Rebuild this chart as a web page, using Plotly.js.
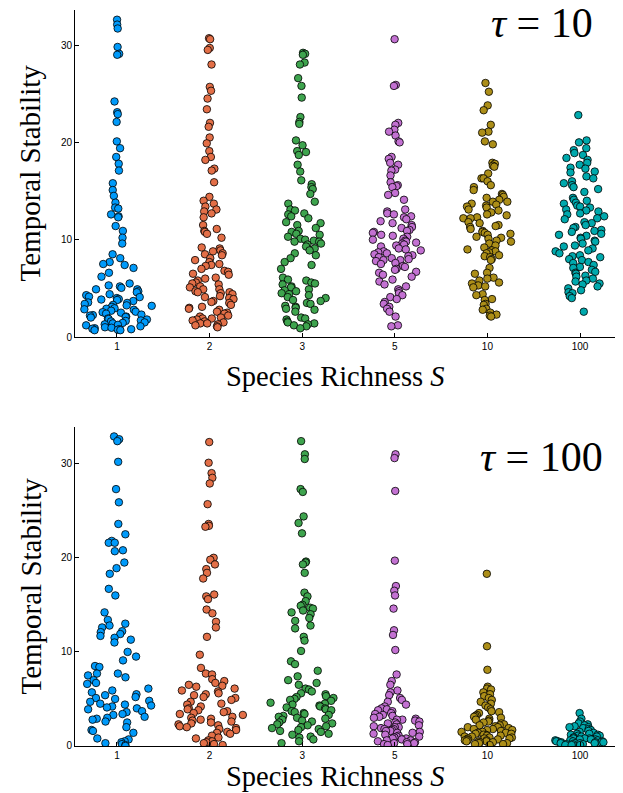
<!DOCTYPE html>
<html>
<head>
<meta charset="utf-8">
<script src="https://cdn.plot.ly/plotly-3.0.1.min.js"></script>
<style>html,body{margin:0;padding:0;background:#fff;}#chart{width:623px;height:793px;}</style>
</head>
<body>
<div id="chart"></div>
<script>
// Category tick labels (species richness S)
const categories = ['1', '2', '3', '5', '10', '100'];
const seriesColors = ['#009AFA', '#E36F47', '#3EA44E', '#C371D2', '#AC8E18', '#00A9AD'];

// Panel tau = 10 : temporal stability per species richness
const tau10_S1 = [32.6, 32.1, 31.7, 29.8, 29.1, 29.0, 24.2, 23.1, 22.9, 22.1, 20.1, 19.4, 18.5, 17.8, 17.1, 15.8, 15.1, 14.5, 13.8, 13.3, 13.2, 12.6, 12.4, 12.3, 11.4, 10.9, 10.2, 9.6, 8.5, 8.1, 7.7, 7.5, 7.4, 7.1, 6.6, 6.2, 5.5,
  5.3, 5.2, 5.05, 4.9, 4.9, 4.7, 4.6, 4.4, 4.3, 4.15, 4.1, 4.0, 3.9, 3.85, 3.8, 3.7, 3.55, 3.5, 3.4, 3.3, 3.25, 3.2, 3.1, 2.95, 2.9, 2.85, 2.8, 2.7, 2.6, 2.55, 2.5, 2.4, 2.3, 2.25,
  2.2, 2.1, 2.05, 2.0, 1.9, 1.85, 1.8, 1.7, 1.65, 1.6, 1.5, 1.45, 1.4, 1.3, 1.25, 1.2, 1.1, 1.0, 0.95, 0.9, 0.85, 0.8, 0.8, 0.75, 0.7, 0.7];
const tau10_S2 = [30.7, 30.6, 29.7, 29.5, 28.0, 25.7, 25.3, 24.5, 23.4, 22.0, 21.6, 20.5, 19.9, 19.1, 18.5, 18.2, 17.3, 17.1, 15.9, 14.4, 14.0, 13.7, 13.4, 13.1, 12.9, 12.7, 12.3, 11.5, 11.1, 10.9, 10.8, 10.6, 10.2,
  9.2, 9.1, 8.9, 8.8, 8.6, 8.5, 8.4, 8.1, 7.9, 7.7, 7.5, 7.4, 7.3, 7.0, 6.8, 6.7, 6.5, 6.4, 6.1, 6.0, 5.8, 5.6, 5.5, 5.4, 5.2, 5.1, 4.9, 4.9, 4.7, 4.6, 4.6, 4.5, 4.4, 4.2, 4.1, 4.0,
  3.9, 3.7, 3.6, 3.5, 3.3, 3.1, 3.0, 2.9, 2.8, 2.6, 2.5, 2.4, 2.2, 2.1, 2.0, 1.9, 1.9, 1.8, 1.7, 1.6, 1.5, 1.4, 1.4, 1.3, 1.2, 1.1, 1.0];
const tau10_S3 = [29.2, 29.1, 29.0, 28.2, 28.0, 26.6, 25.8, 24.6, 22.6, 22.1, 21.9, 20.2, 19.7, 19.1, 19.0, 18.7, 17.7, 17.0, 16.1, 15.7, 15.4, 15.2, 14.7, 13.9, 13.7, 13.1, 13.0, 12.7, 12.6, 12.4, 12.2, 11.8, 11.7, 11.5, 11.2,
  10.9, 10.8, 10.6, 10.5, 10.3, 10.1, 10.0, 9.9, 9.8, 9.8, 9.6, 9.5, 9.3, 9.1, 8.9, 8.6, 8.4, 8.1, 7.7, 7.4, 7.0,
  6.1, 5.9, 5.8, 5.6, 5.5, 5.4, 5.2, 5.1, 4.9, 4.8, 4.7, 4.5, 4.4, 4.3, 4.1, 4.0, 3.8, 3.7, 3.5, 3.4, 3.2, 3.1, 3.0, 2.9, 2.8, 2.6,
  2.0, 1.9, 1.8, 1.6, 1.5, 1.4, 1.3, 1.2, 1.1, 0.9];
const tau10_S5 = [30.6, 25.9, 25.8, 22.0, 21.8, 21.3, 21.1, 20.7, 20.1, 20.0, 18.5, 18.3, 17.9, 17.7, 17.2, 17.1, 16.6, 15.9, 15.6, 15.5, 15.4, 14.8, 14.6, 14.1,
  13.1, 12.9, 12.7, 12.6, 12.4, 12.3, 12.1, 11.9, 11.7, 11.5, 11.3, 11.2, 11.0, 10.9, 10.8, 10.7, 10.5, 10.4, 10.3, 10.1, 10.0,
  9.9, 9.8, 9.7, 9.6, 9.5, 9.4, 9.3, 9.1, 9.0, 8.9, 8.8, 8.7, 8.6, 8.5, 8.4, 8.3, 8.2, 8.1, 8.0, 7.9, 7.9, 7.8, 7.6, 7.5, 7.3, 7.2, 7.0, 6.9, 6.7, 6.6,
  6.4, 6.2, 5.9, 5.7, 5.4, 5.2, 4.9, 4.7, 4.5, 4.3, 4.1, 3.9, 3.6, 3.4, 3.1, 2.9, 2.6, 2.1, 1.2, 1.1];
const tau10_S10 = [26.1, 25.2, 23.8, 23.3, 21.8, 21.1, 21.0, 20.1, 19.8, 17.9, 17.8, 17.6, 17.5, 16.8, 16.3, 16.3, 16.0, 15.6, 15.4, 15.1,
  14.7, 14.6, 14.4, 14.3, 14.1, 13.9, 13.9, 13.7, 13.6, 13.5, 13.4, 13.3, 13.1, 13.0, 12.8, 12.6, 12.5, 12.3, 12.2, 12.2,
  11.8, 11.7, 11.5, 11.4, 11.3, 11.1, 10.9, 10.8, 10.7, 10.6, 10.5, 10.3, 10.2, 10.1, 9.9, 9.8, 9.6, 9.4, 9.2, 9.0,
  8.9, 8.8, 8.7, 8.6, 8.4, 8.3, 8.2, 8.0, 7.9, 7.1, 6.6, 6.5, 6.1, 6.0, 5.8, 5.6, 5.5, 5.3, 5.2, 5.1,
  4.4, 4.3, 3.9, 3.8, 3.4, 3.3, 2.9, 2.8, 2.5, 2.3, 2.2, 2.1];
const tau10_S100 = [22.8, 20.2, 20.0, 19.4, 19.2, 18.9, 18.7, 18.4, 18.2, 17.9, 17.7, 17.4, 17.3, 17.0, 16.9, 16.5, 16.3, 16.0, 15.8, 15.6, 15.4, 15.2, 14.9,
  14.3, 14.1, 14.0, 13.8, 13.7, 13.5, 13.4, 13.3, 13.1, 13.0, 12.9, 12.7, 12.6, 12.4, 12.2, 12.1, 11.8, 11.7, 11.5, 11.3, 11.2, 11.0,
  10.9, 10.8, 10.6, 10.5, 10.4, 10.2, 10.1, 9.9, 9.8, 9.6, 9.4, 9.3, 9.1, 8.9, 8.8, 8.6, 8.4, 8.3, 8.2, 8.0,
  7.9, 7.7, 7.6, 7.4, 7.2, 7.1, 6.9, 6.7, 6.6, 6.5, 6.3, 6.2, 6.0, 5.8, 5.7, 5.5, 5.4, 5.2, 5.0, 4.8, 4.6, 4.5, 4.2, 4.0, 2.6];

// Panel tau = 100
const tau100_S1 = [32.9, 32.6, 32.4, 30.2, 27.3, 25.9, 23.6, 22.5, 21.8, 21.6, 21.6, 20.8, 20.7, 19.5, 18.9, 18.3, 16.7, 16.0, 14.2, 13.4, 13.0, 12.8, 12.6, 12.2, 12.1, 11.9, 11.7, 11.5, 11.3, 11.0,
  10.0, 9.5, 9.1, 8.5, 8.4, 7.7, 7.7, 7.5, 7.3, 7.0, 6.7, 6.6, 6.1, 5.9, 5.7, 5.5, 5.4, 5.2, 5.1, 5.0, 4.8, 4.7, 4.5, 4.4, 4.3, 4.2, 4.1, 4.0, 3.9, 3.7,
  3.6, 3.4, 3.3, 3.1, 3.0, 2.9, 2.8, 2.6, 2.5, 2.0, 1.7, 1.6, 1.4, 0.8, 0.7, 0.5, 0.4, 0.3, 0.2, 0.1, 0.0];
const tau100_S2 = [32.3, 30.1, 29.0, 28.5, 27.9, 25.7, 23.6, 23.4, 23.3, 20.0, 19.8, 19.3, 18.8, 18.4, 17.8, 16.1, 15.9, 15.6, 14.5, 14.1, 13.2, 12.6, 11.6, 9.7, 8.3, 7.7, 7.6,
  7.1, 6.9, 6.7, 6.5, 6.4, 6.3, 6.1, 5.9, 5.8, 5.6, 5.5, 5.4, 5.2, 5.1, 4.9, 4.7, 4.5, 4.4, 4.2, 4.0, 3.9, 3.8, 3.7, 3.6, 3.5, 3.4, 3.3, 3.1, 3.0,
  2.9, 2.8, 2.7, 2.6, 2.5, 2.4, 2.3, 2.2, 2.1, 2.0, 1.9, 1.8, 1.7, 1.5, 1.4, 1.3, 1.1, 0.9, 0.8, 0.6, 0.5, 0.4, 0.3, 0.2, 0.1];
const tau100_S3 = [32.4, 31.0, 30.5, 27.3, 27.0, 24.4, 23.7, 22.6, 19.6, 19.5, 19.3, 18.4, 16.3, 15.9, 15.4, 15.0, 14.9, 14.7, 14.6, 14.4, 14.2, 14.0, 13.6, 13.3, 12.8, 12.5, 11.6, 11.2, 10.1,
  9.0, 8.7, 8.0, 7.4, 7.0, 6.7, 6.5, 6.1, 6.0, 5.8, 5.6, 5.5, 5.3, 5.2, 5.1, 5.0, 4.9, 4.8, 4.6, 4.5, 4.4, 4.3, 4.2, 4.1, 4.0, 3.9, 3.8, 3.7, 3.6, 3.5,
  3.4, 3.3, 3.2, 3.1, 3.0, 2.9, 2.8, 2.7, 2.6, 2.5, 2.4, 2.3, 2.2, 2.1, 2.0, 1.9, 1.8, 1.7, 1.6, 1.5, 1.3, 1.2, 1.0, 0.9, 0.7, 0.5, 0.3];
const tau100_S5 = [31.0, 30.6, 27.1, 19.7, 17.0, 16.5, 16.0, 14.6, 12.3, 11.8, 10.2, 7.6, 6.9, 6.5, 5.9, 5.7, 5.4, 5.1, 4.9, 4.7, 4.4, 4.2, 4.0, 3.9, 3.8, 3.7, 3.5, 3.4, 3.3, 3.2, 3.1, 3.0,
  2.9, 2.8, 2.8, 2.7, 2.6, 2.5, 2.4, 2.3, 2.2, 2.1, 2.0, 2.0, 1.9, 1.8, 1.8, 1.7, 1.6, 1.6, 1.5, 1.4, 1.4, 1.3, 1.2, 1.1, 1.0, 1.0,
  0.9, 0.8, 0.8, 0.7, 0.6, 0.6, 0.5, 0.4, 0.4, 0.3, 0.3, 0.2, 0.2, 0.1];
const tau100_S10 = [18.3, 10.6, 8.1, 6.3, 6.1, 6.0, 5.7, 5.5, 5.3, 5.1, 4.9, 4.7, 4.5, 4.3, 4.1, 3.9, 3.7, 3.6, 3.5, 3.3, 3.2, 3.1, 3.0, 2.9, 2.8, 2.7, 2.6, 2.5, 2.4, 2.3,
  2.2, 2.2, 2.1, 2.0, 2.0, 1.9, 1.8, 1.8, 1.7, 1.7, 1.6, 1.5, 1.5, 1.4, 1.4, 1.3, 1.3, 1.2, 1.2, 1.1, 1.1, 1.0, 1.0,
  0.9, 0.9, 0.8, 0.8, 0.8, 0.7, 0.7, 0.6, 0.6, 0.6, 0.5, 0.5, 0.5, 0.4, 0.4, 0.3, 0.3, 0.2, 0.2, 0.1];
const tau100_S100 = [3.5, 2.9, 2.6, 2.4, 2.3, 2.2, 2.1, 2.0, 2.0, 1.9, 1.8, 1.7, 1.6, 1.5, 1.4, 1.3, 1.3, 1.2, 1.2, 1.1, 1.1, 1.0, 1.0,
  0.9, 0.9, 0.8, 0.8, 0.8, 0.7, 0.7, 0.7, 0.6, 0.6, 0.6, 0.5, 0.5, 0.5, 0.5, 0.4, 0.4, 0.4, 0.4, 0.3, 0.3, 0.3, 0.3, 0.2, 0.2, 0.2, 0.1, 0.1, 0.1];

const tau10Groups = [tau10_S1, tau10_S2, tau10_S3, tau10_S5, tau10_S10, tau10_S100];
const tau100Groups = [tau100_S1, tau100_S2, tau100_S3, tau100_S5, tau100_S10, tau100_S100];

// Layout style: maximum horizontal half-spread of each swarm (in category units)
const spreadTau10 = [0.39, 0.26, 0.26, 0.29, 0.27, 0.28];
const spreadTau100 = [0.41, 0.36, 0.37, 0.30, 0.31, 0.31];

// Deterministic jitter generator (layout only)
function makeJitter(seed) {
  let a = seed >>> 0;
  return function () {
    a = (a + 0x6D2B79F5) >>> 0;
    let t = a;
    t = Math.imul(t ^ (t >>> 15), t | 1);
    t ^= t + Math.imul(t ^ (t >>> 7), t | 61);
    return ((t ^ (t >>> 14)) >>> 0) / 4294967296;
  };
}
function quantile(sorted, q) {
  const pos = (sorted.length - 1) * q, lo = Math.floor(pos), hi = Math.ceil(pos);
  return sorted[lo] + (sorted[hi] - sorted[lo]) * (pos - lo);
}
// Density-scaled dot plot spreading
function spread(vals, center, halfw, seed) {
  const n = vals.length;
  const mean = vals.reduce((a, b) => a + b, 0) / n;
  const sd = Math.sqrt(vals.reduce((a, b) => a + (b - mean) * (b - mean), 0) / (n - 1));
  const s = vals.slice().sort((a, b) => a - b);
  const iqr = quantile(s, 0.75) - quantile(s, 0.25);
  let bw = 0.9 * Math.min(sd, iqr / 1.34) * Math.pow(n, -0.2);
  if (!(bw > 0)) bw = 0.9 * sd * Math.pow(n, -0.2);
  const dens = vals.map(v => vals.reduce((acc, w) => acc + Math.exp(-0.5 * Math.pow((v - w) / bw, 2)), 0));
  const maxd = Math.max(...dens);
  const rnd = makeJitter(seed);
  return vals.map((v, i) => center + (rnd() * 2 - 1) * halfw * dens[i] / maxd);
}

const traces = [];
[[tau10Groups, spreadTau10, 'x', 'y', 11], [tau100Groups, spreadTau100, 'x2', 'y2', 101]].forEach(([groups, widths, xa, ya, seed]) => {
  groups.forEach((vals, g) => {
    traces.push({
      type: 'scatter', mode: 'markers',
      x: spread(vals, g + 1, widths[g], seed + g * 7), y: vals,
      xaxis: xa, yaxis: ya,
      marker: {color: seriesColors[g], size: 7.5, line: {color: '#000000', width: 0.8}},
      showlegend: false, hoverinfo: 'skip'
    });
  });
});

const tickFont = {family: 'Liberation Sans, Arial, sans-serif', size: 10, color: '#000'};
const serif = 'Liberation Serif, Times New Roman, serif';
function xAxis(anchor) {
  return {
    anchor: anchor, domain: [0, 1], range: [0.5465, 6.378],
    tickmode: 'array', tickvals: [1, 2, 3, 4, 5, 6], ticktext: categories,
    ticks: 'inside', ticklen: 4, tickcolor: '#000', tickfont: tickFont,
    showline: true, linecolor: '#000', linewidth: 1, showgrid: false, zeroline: false
  };
}
function yAxis(anchor, domain, top) {
  return {
    anchor: anchor, domain: domain, range: [0, top],
    tickmode: 'array', tickvals: [0, 10, 20, 30],
    ticks: 'inside', ticklen: 4, tickcolor: '#000', tickfont: tickFont,
    showline: true, linecolor: '#000', linewidth: 1, showgrid: false, zeroline: false
  };
}
function label(text, x, y, angle, size) {
  return {text: text, xref: 'paper', yref: 'paper', x: x, y: y, xanchor: 'center', yanchor: 'middle',
          textangle: angle, showarrow: false, borderpad: 0, font: {family: serif, size: size, color: '#000'}};
}

const layout = {
  width: 623, height: 793,
  margin: {l: 75, r: 8, t: 10, b: 47},
  paper_bgcolor: '#fff', plot_bgcolor: '#fff',
  xaxis: xAxis('y'), yaxis: yAxis('x', [0.5557, 1], 33.6),
  xaxis2: xAxis('y2'), yaxis2: yAxis('x2', [0, 0.4334], 33.9),
  annotations: [
    label('Species Richness <i>S</i>', 0.4815, 0.5027, 0, 28.5),
    label('Species Richness <i>S</i>', 0.4815, -0.0418, 0, 28.5),
    label('Temporal Stability', -0.0833, 0.7779, -90, 29),
    label('Temporal Stability', -0.0833, 0.2167, -90, 29),
    {text: '<i>τ</i> = 10', xref: 'paper', yref: 'paper', x: 0.963, y: 0.983, xanchor: 'right', yanchor: 'middle', showarrow: false,
     font: {family: serif, size: 42, color: '#000'}},
    {text: '<i>τ</i> = 100', xref: 'paper', yref: 'paper', x: 0.981, y: 0.393, xanchor: 'right', yanchor: 'middle', showarrow: false,
     font: {family: serif, size: 42, color: '#000'}}
  ]
};

Plotly.newPlot('chart', traces, layout, {displayModeBar: false, staticPlot: true});
</script>
</body>
</html>
